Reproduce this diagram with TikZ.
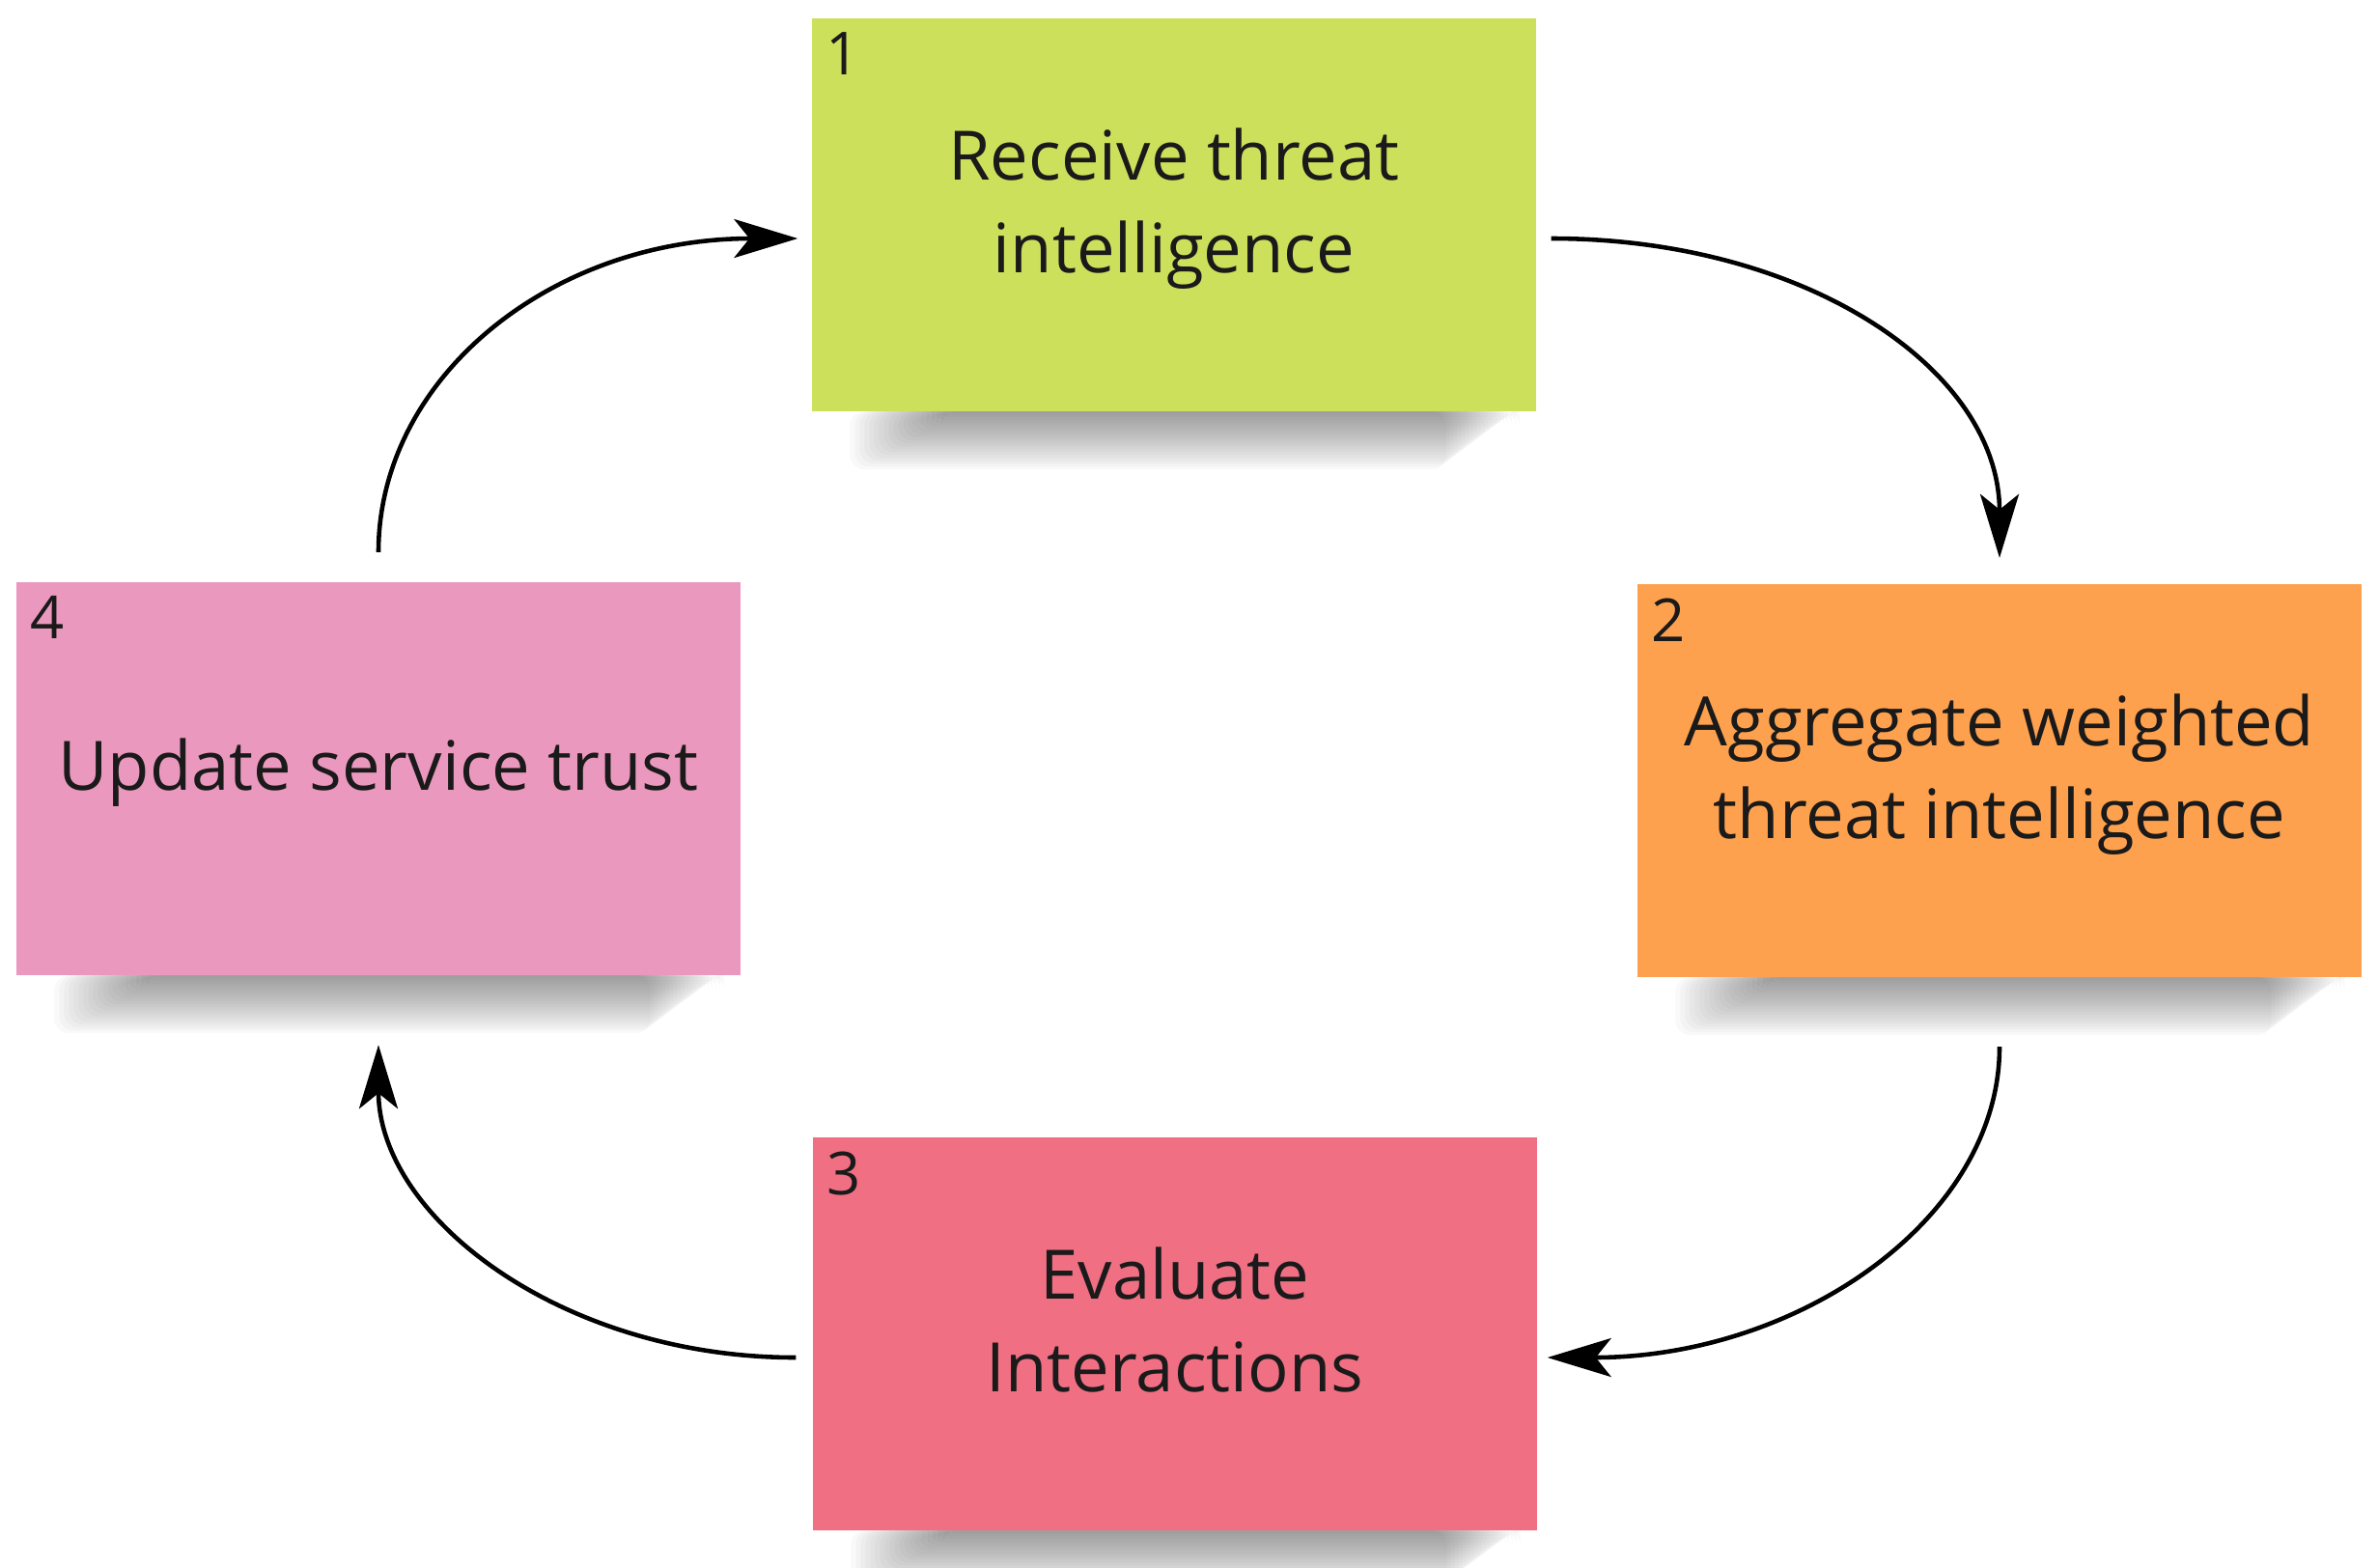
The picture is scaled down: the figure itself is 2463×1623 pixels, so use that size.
\documentclass[tikz,border=0pt]{standalone}
\usepackage{fontspec}
\setmainfont{Open Sans}
\usetikzlibrary{arrows.meta}
\usetikzlibrary{calc}
\usetikzlibrary{backgrounds}

\definecolor{notegreen}{RGB}{204,224,92}
\definecolor{noteorange}{RGB}{254,161,78}
\definecolor{notered}{RGB}{240,111,131}
\definecolor{notepink}{RGB}{234,152,190}
\definecolor{notetext}{RGB}{26,26,26}

\tikzset{
  note/.style={minimum width=75mm, minimum height=40.7mm, inner sep=0pt},
  txt/.style={align=center, inner sep=0pt, text=notetext, font=\fontsize{20.1}{27.3}\selectfont, text depth=0pt},
  num/.style={anchor=north west, inner sep=0pt, text=notetext, font=\fontsize{17.5}{20}\selectfont},
  flow/.style={line width=1.3pt, -{Stealth[length=6.6mm, width=4mm, inset=1.6mm]}},
}

\newcommand{\noteshadow}[1]{
  \foreach \k in {1,...,20}
    \fill[black, opacity=0.022, rounded corners=1.5mm]
      ($(#1.south west)+(140-5*\k,0)$) rectangle ($(#1.south east)+(-14-4*\k,3*\k)$);
}

\begin{document}
\begin{tikzpicture}[x=0.1mm, y=-0.1mm]

\useasboundingbox (0,0) rectangle (2463,1623);

% 1
\node[note, fill=notegreen] (recv) at (1216,222) {};
\node[txt] (recv text) at ($(recv)+(0,-14)$) {Receive threat\\intelligence};
\node[num] (n1) at ($(recv.north west)+(14,15)$) {1};

% 2
\node[note, fill=noteorange] (aggr) at (2071,808) {};
\node[txt] (aggr text) at ($(aggr)+(0,-14)$) {Aggregate weighted\\threat intelligence};
\node[num] (n2) at ($(aggr.north west)+(14,15)$) {2};

% 3
\node[note, fill=notered] (eval) at (1217,1381) {};
\node[txt] (eval text) at ($(eval)+(0,-14)$) {Evaluate\\Interactions};
\node[num] (n3) at ($(eval.north west)+(14,15)$) {3};

% 4
\node[note, fill=notepink] (trust) at (392,806) {};
\node[txt] (trust text) at ($(trust)+(0,-14)$) {Update service trust};
\node[num] (n4) at ($(trust.north west)+(14,15)$) {4};

% shadows
\begin{scope}[on background layer]
\noteshadow{recv}
\noteshadow{aggr}
\noteshadow{eval}
\noteshadow{trust}
\end{scope}

% cycle
\draw[flow] ($(recv.east)+(15,25)$) .. controls ($(recv.east)+(280,25)$) and ($(aggr.north)+(0,-220)$) .. ($(aggr.north)+(0,-26)$);
\draw[flow] ($(aggr.south)+(0,72)$) .. controls ($(aggr.south)+(0,250)$) and ($(eval.east)+(270,25)$) .. ($(eval.east)+(10,25)$);
\draw[flow] ($(eval.west)+(-17,25)$) .. controls ($(eval.west)+(-260,25)$) and ($(trust.south)+(0,250)$) .. ($(trust.south)+(0,72)$);
\draw[flow] ($(trust.north)+(0,-30)$) .. controls ($(trust.north)+(0,-210)$) and ($(recv.west)+(-270,25)$) .. ($(recv.west)+(-14,25)$);

\end{tikzpicture}
\end{document}
